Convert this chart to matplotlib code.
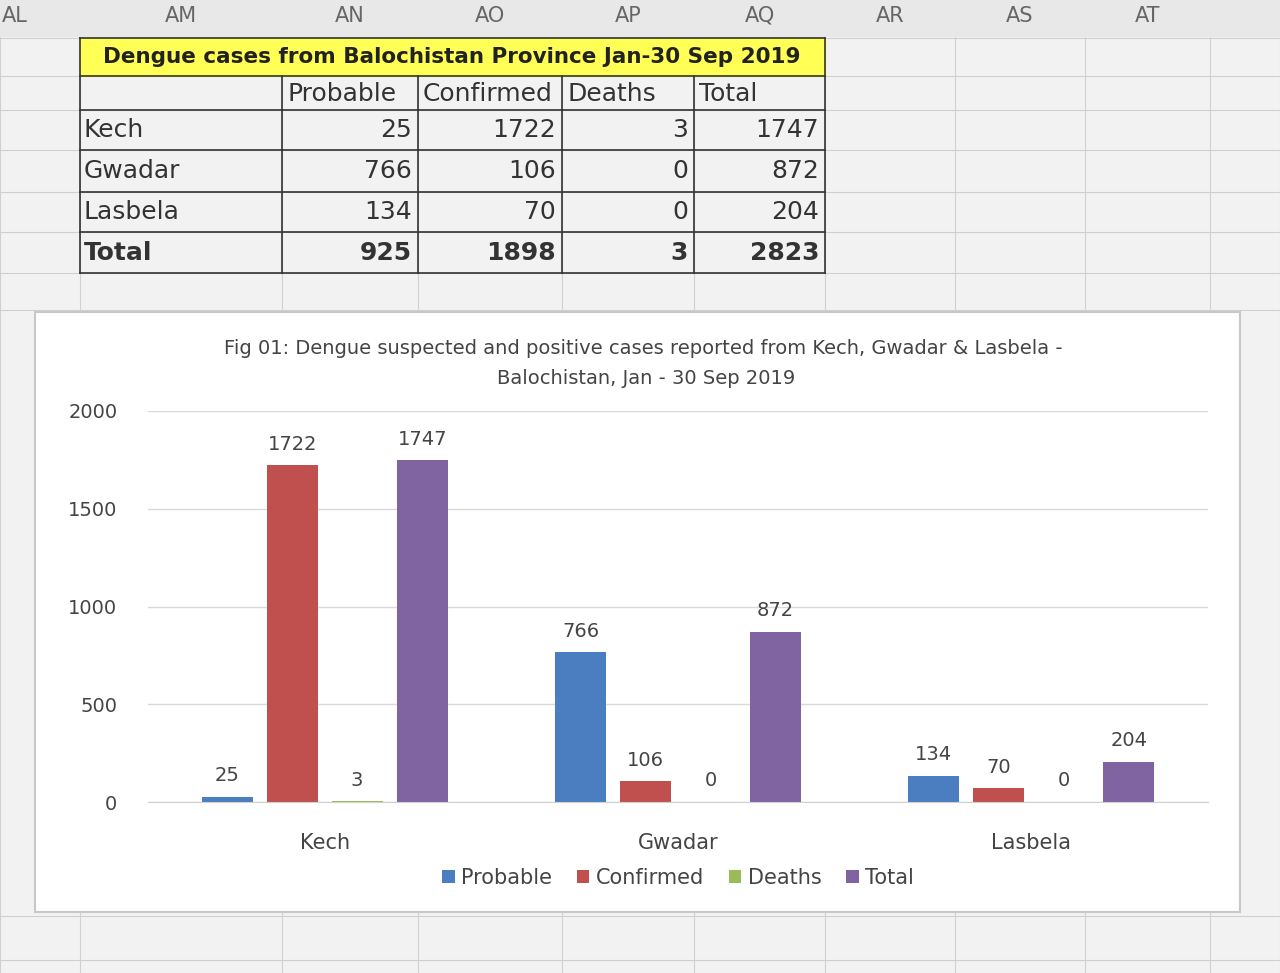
import matplotlib.pyplot as plt
import matplotlib.patches as mpatches
import numpy as np

districts = ['Kech', 'Gwadar', 'Lasbela']
probable = [25, 766, 134]
confirmed = [1722, 106, 70]
deaths = [3, 0, 0]
total = [1747, 872, 204]
col_letters = ['AL', 'AM', 'AN', 'AO', 'AP', 'AQ', 'AR', 'AS', 'AT']

series = [('Probable', probable, '#4a7ec0'), ('Confirmed', confirmed, '#c0504d'),
          ('Deaths', deaths, '#9bbb59'), ('Total', total, '#8064a2')]

fig = plt.figure(figsize=(12.8, 9.73), dpi=100)
fig.patch.set_facecolor('#f2f2f2')

# sheet layer in pixel coords
bg = fig.add_axes([0, 0, 1, 1])
bg.set_xlim(0, 1280)
bg.set_ylim(973, 0)
bg.axis('off')

# spreadsheet grid
col_x = [0, 80, 282, 418, 562, 694, 825, 955, 1085, 1210, 1280]
for x in col_x:
    bg.plot([x, x], [0, 973], color='#d0d0d0', lw=0.8, zorder=1)
for y in [38, 76, 110, 150, 192, 232, 273, 310, 916, 960]:
    bg.plot([0, 1280], [y, y], color='#d0d0d0', lw=0.8, zorder=1)
bg.add_patch(mpatches.Rectangle((0, 0), 1280, 36, color='#e8e8e8', zorder=2))
for i, lab in enumerate(col_letters):
    cx = 15 if i == 0 else (col_x[i] + col_x[i + 1]) / 2
    bg.text(cx, 16, lab, ha='center', va='center', fontsize=15, color='#666666', zorder=3)

# data table
bg.add_patch(mpatches.Rectangle((80, 38), 745, 38, color='#ffff55', zorder=2))
bg.text(452, 57, 'Dengue cases from Balochistan Province Jan-30 Sep 2019',
        ha='center', va='center', fontsize=15.5, fontweight='bold', color='#222222', zorder=3)
tab_x = [80, 282, 418, 562, 694, 825]
tab_y = [38, 76, 110, 150, 192, 232, 273]
for x in tab_x:
    bg.plot([x, x], [76 if x not in (80, 825) else 38, 273], color='#333333', lw=1.2, zorder=3)
for y in tab_y:
    bg.plot([80, 825], [y, y], color='#333333', lw=1.2, zorder=3)
for i, h in enumerate(['Probable', 'Confirmed', 'Deaths', 'Total']):
    bg.text(tab_x[i + 1] + 5, 94, h, ha='left', va='center', fontsize=18, color='#333333')
rows = [(d, probable[i], confirmed[i], deaths[i], total[i]) for i, d in enumerate(districts)]
rows.append(('Total', sum(probable), sum(confirmed), sum(deaths), sum(total)))
for r, row in enumerate(rows):
    yc = (tab_y[r + 2] + tab_y[r + 3]) / 2
    fw = 'bold' if row[0] == 'Total' else 'normal'
    bg.text(84, yc, row[0], ha='left', va='center', fontsize=18, color='#333333', fontweight=fw)
    for c in range(4):
        bg.text(tab_x[c + 2] - 6, yc, str(row[c + 1]), ha='right', va='center',
                fontsize=18, color='#333333', fontweight=fw)

# chart frame
bg.add_patch(mpatches.Rectangle((35, 312), 1205, 600, facecolor='white',
                                edgecolor='#c8c8c8', lw=1.5, zorder=5))
bg.text(643, 349, 'Fig 01: Dengue suspected and positive cases reported from Kech, Gwadar & Lasbela -',
        ha='center', va='center', fontsize=14, color='#444444', zorder=6)
bg.text(646, 379, 'Balochistan, Jan - 30 Sep 2019', ha='center', va='center',
        fontsize=14, color='#444444', zorder=6)

ax = fig.add_axes([148 / 1280, 171 / 973, 1060 / 1280, 391 / 973])
ax.set_facecolor('none')
x = np.arange(len(districts))
w = 0.145
step = 0.184
for k, (name, vals, col) in enumerate(series):
    pos = x + (k - 1.5) * step
    ax.bar(pos, vals, w, color=col, label=name)
    for p, v in zip(pos, vals):
        ax.text(p, v + 60, str(v), ha='center', va='bottom', fontsize=14, color='#444444')
ax.set_xlim(-0.5, 2.5)
ax.set_ylim(0, 2000)
ax.set_yticks([0, 500, 1000, 1500, 2000])
ax.grid(axis='y', color='#d9d9d9', lw=1)
ax.set_axisbelow(True)
for s in ['top', 'right', 'left']:
    ax.spines[s].set_visible(False)
ax.spines['bottom'].set_color('#d0d0d0')
ax.tick_params(length=0, labelsize=14, colors='#444444')
ax.tick_params(axis='y', pad=22)
ax.set_xticks(x)
ax.set_xticklabels(districts)
ax.tick_params(axis='x', pad=22, labelsize=15)
ax.legend(loc='upper center', bbox_to_anchor=(0.5, -0.12), ncol=4, frameon=False,
          fontsize=15, handlelength=0.6, handleheight=0.6, handletextpad=0.3,
          columnspacing=1.2, labelcolor='#444444')

fig.savefig('out.png', dpi=100, facecolor=fig.get_facecolor())
